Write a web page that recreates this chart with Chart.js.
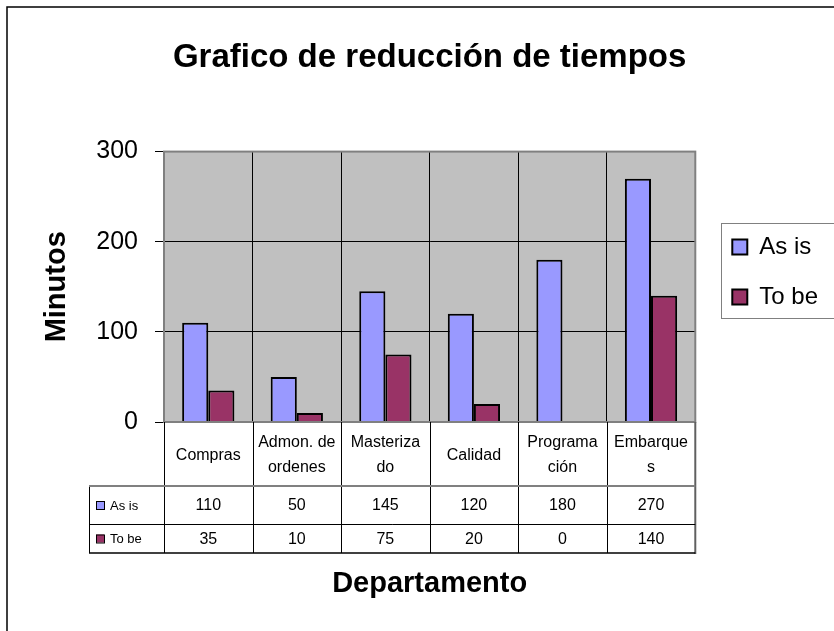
<!DOCTYPE html>
<html>
<head>
<meta charset="utf-8">
<script src="https://cdn.jsdelivr.net/npm/chart.js@4/dist/chart.umd.min.js"></script>
<style>
html,body{margin:0;padding:0;background:#fff;}
#c{display:block;}
</style>
</head>
<body>
<canvas id="c" width="834" height="631"></canvas>
<script>
// ---- data ----
const categories = [["Compras"], ["Admon. de", "ordenes"], ["Masteriza", "do"], ["Calidad"], ["Programa", "ción"], ["Embarque", "s"]];
const asIs = [110, 50, 145, 120, 180, 270];
const toBe = [35, 10, 75, 20, 0, 140];
const yTicks = [0, 100, 200, 300];
const seriesNames = ["As is", "To be"];
const chartTitle = "Grafico de reducción de tiempos";
const xTitle = "Departamento";
const yTitle = "Minutos";

// ---- styling ----
const FONT = "'Liberation Sans', Arial, Helvetica, sans-serif";
Chart.defaults.font.family = FONT;
Chart.defaults.color = '#000';

const LEGEND_FIRST_TOP = 235;

const framePlugin = {
  id: 'frame',
  afterLayout(chart) {
    const lg = chart.legend;
    if (!lg || !lg.columnSizes || !lg.columnSizes.length) return;
    const p = lg.options.labels.padding;
    const colH = lg.columnSizes[0].height;
    const y0 = (lg.top + p + lg.bottom - colH) / 2;
    const d = LEGEND_FIRST_TOP - y0;
    lg.top += d; lg.bottom += d;
  },
  beforeDraw(chart) {
    const {ctx, chartArea: a} = chart;
    ctx.save();
    ctx.fillStyle = '#fff';
    ctx.fillRect(0, 0, chart.width, chart.height);
    ctx.strokeStyle = '#000';
    ctx.lineWidth = 1.5;
    ctx.strokeRect(7, 7, 900, 700);
    ctx.fillStyle = '#c0c0c0';
    ctx.fillRect(a.left, a.top, a.right - a.left, a.bottom - a.top);
    ctx.restore();
  },
  afterDraw(chart) {
    const {ctx, chartArea: a} = chart;
    const x = chart.scales.x;
    const n = chart.data.labels.length;
    const half = (x.getPixelForValue(1) - x.getPixelForValue(0)) / 2;
    const rows = [a.bottom, a.bottom + 64, a.bottom + 102, a.bottom + 131];
    const labelLeft = a.left - 75;
    ctx.save();
    // plot border
    ctx.strokeStyle = '#808080';
    ctx.lineWidth = 2;
    ctx.strokeRect(a.left, a.top, a.right - a.left, a.bottom - a.top);
    // table vertical lines
    ctx.strokeStyle = '#000';
    ctx.lineWidth = 1;
    for (let i = 0; i < n; i++) {
      const px = Math.round(x.getPixelForValue(i) - half) + 0.5;
      ctx.beginPath(); ctx.moveTo(px, rows[0]); ctx.lineTo(px, rows[3]); ctx.stroke();
    }
    // left column border
    ctx.beginPath(); ctx.moveTo(labelLeft + 0.5, rows[1]); ctx.lineTo(labelLeft + 0.5, rows[3]); ctx.stroke();
    // right border
    ctx.strokeStyle = '#606060';
    ctx.lineWidth = 2;
    const rx = x.getPixelForValue(n - 1) + half;
    ctx.beginPath(); ctx.moveTo(rx, rows[0]); ctx.lineTo(rx, rows[3] + 1); ctx.stroke();
    // horizontal lines
    ctx.strokeStyle = '#808080';
    ctx.lineWidth = 2;
    ctx.beginPath(); ctx.moveTo(labelLeft, rows[1]); ctx.lineTo(rx, rows[1]); ctx.stroke();
    ctx.strokeStyle = '#000';
    ctx.lineWidth = 1;
    ctx.beginPath(); ctx.moveTo(labelLeft, rows[2] + 0.5); ctx.lineTo(rx, rows[2] + 0.5); ctx.stroke();
    ctx.lineWidth = 1.5;
    ctx.beginPath(); ctx.moveTo(labelLeft, rows[3]); ctx.lineTo(rx, rows[3]); ctx.stroke();
    // rows
    ctx.textBaseline = 'middle';
    chart.data.datasets.forEach((ds, k) => {
      const cy = (rows[k + 1] + rows[k + 2]) / 2;
      ctx.fillStyle = ds.backgroundColor;
      ctx.fillRect(labelLeft + 7, cy - 4, 8, 8);
      ctx.strokeStyle = '#000';
      ctx.lineWidth = 1;
      ctx.strokeRect(labelLeft + 7.5, cy - 3.5, 8, 8);
      ctx.fillStyle = '#000';
      ctx.font = '13px ' + FONT;
      ctx.textAlign = 'left';
      ctx.fillText(ds.label, labelLeft + 21, cy + 1);
      ctx.font = '16px ' + FONT;
      ctx.textAlign = 'center';
      ds.data.forEach((v, i) => {
        ctx.fillText(String(v), x.getPixelForValue(i), cy + 1);
      });
    });
    // legend border
    const lg = chart.legend;
    if (lg && lg.legendHitBoxes && lg.legendHitBoxes.length) {
      const hb = lg.legendHitBoxes;
      const last = hb[hb.length - 1];
      const top = hb[0].top - 12;
      const bot = last.top + last.height + 9;
      ctx.strokeStyle = '#808080';
      ctx.lineWidth = 1;
      ctx.strokeRect(Math.round(hb[0].left - 11) + 0.5, Math.round(top) + 0.5, 300, Math.round(bot - top));
    }
    ctx.restore();
  }
};

new Chart(document.getElementById('c'), {
  type: 'bar',
  data: {
    labels: categories,
    datasets: [
      { label: seriesNames[0], data: asIs, backgroundColor: '#9999FF', borderColor: '#000', borderWidth: 2, yAxisID: 'y', categoryPercentage: 0.59, barPercentage: 1 },
      { label: seriesNames[1], data: toBe, backgroundColor: '#993366', borderColor: '#000', borderWidth: 2, yAxisID: 'y', categoryPercentage: 0.59, barPercentage: 1 }
    ]
  },
  options: {
    responsive: false,
    devicePixelRatio: 1,
    animation: false,
    layout: { padding: { left: 0, top: 0, right: 6, bottom: 0 } },
    plugins: {
      tooltip: { enabled: false },
      title: {
        display: true,
        text: chartTitle,
        fullSize: false,
        color: '#000',
        font: { size: 33, weight: 'bold', family: FONT, lineHeight: 1.2 },
        padding: { top: 38, bottom: 74 }
      },
      legend: {
        display: true,
        position: 'right',
        align: 'center',
        fullSize: false,
        labels: {
          color: '#000',
          font: { size: 24, family: FONT },
          boxWidth: 15,
          boxHeight: 15,
          padding: 26
        }
      }
    },
    scales: {
      x: {
        offset: true,
        grid: { offset: true, color: '#000', lineWidth: 1, drawTicks: false },
        border: { display: false },
        ticks: {
          color: '#000',
          font: { size: 16, family: FONT, lineHeight: 1.5625 },
          padding: 21,
          autoSkip: false,
          maxRotation: 0,
          minRotation: 0,
          crossAlign: 'center'
        },
        title: {
          display: true,
          text: xTitle,
          color: '#000',
          font: { size: 29, weight: 'bold', family: FONT, lineHeight: 1.2 },
          padding: { top: 0, bottom: 30 }
        },
        afterFit: s => { s.height = 209; }
      },
      y: {
        min: 0,
        max: 300,
        afterBuildTicks: s => { s.ticks = yTicks.map(v => ({ value: v })); },
        afterFit: s => { s.width = 164; },
        grid: { color: '#000', lineWidth: 1, tickLength: 9, drawTicks: true },
        border: { display: true, color: '#000', width: 1 },
        ticks: { color: '#000', font: { size: 25, family: FONT }, padding: 17 },
        title: {
          display: true,
          text: yTitle,
          color: '#000',
          font: { size: 29, weight: 'bold', family: FONT, lineHeight: 1.2 },
          padding: { top: 40, bottom: 0 }
        }
      },
      y2: {
        position: 'right',
        display: true,
        grid: { display: false, drawTicks: false },
        border: { display: false },
        ticks: { display: false },
        afterFit: s => { s.width = 11; }
      }
    }
  },
  plugins: [framePlugin]
});
</script>
</body>
</html>
